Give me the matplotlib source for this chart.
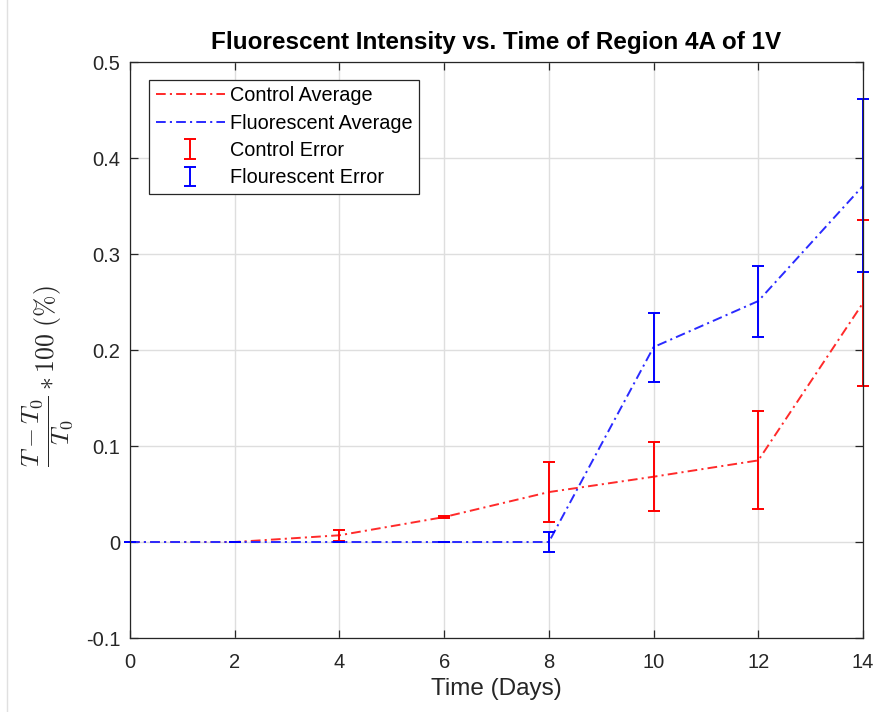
import matplotlib.pyplot as plt
import numpy as np

plt.rcParams['font.family'] = ['Liberation Sans', 'DejaVu Sans']
plt.rcParams['mathtext.fontset'] = 'cm'
plt.rcParams['lines.scale_dashes'] = False

days = [0, 2, 4, 6, 8, 10, 12, 14]
control_avg = [0, 0, 0.007, 0.026, 0.052, 0.068, 0.085, 0.249]
control_err = [0, 0, 0.006, 0.001, 0.031, 0.036, 0.051, 0.086]
fluor_avg = [0, 0, 0, 0, 0, 0.203, 0.251, 0.371]
fluor_err = [0, 0, 0, 0, 0.010, 0.036, 0.037, 0.090]

fig = plt.figure(figsize=(8.77, 7.12), dpi=100)
ax = fig.add_axes([130 / 877, 1 - 638 / 712, (863 - 130) / 877, (638 - 62) / 712])

dashdot = (7, 3, 1.5, 3)

# averages as dash-dot lines, errors as separate bar-only series (like MATLAB)
ax.plot(days, control_avg, color='#ff2a2a', dashes=dashdot, lw=1.4, label='Control Average')
ax.plot(days, fluor_avg, color='#2a2aff', dashes=dashdot, lw=1.4, label='Fluorescent Average')
ax.errorbar(days, control_avg, yerr=control_err, fmt='none', ecolor='red',
            elinewidth=1.4, capsize=4.5, capthick=1.4, label='Control Error', clip_on=False)
ax.errorbar(days, fluor_avg, yerr=fluor_err, fmt='none', ecolor='blue',
            elinewidth=1.4, capsize=4.5, capthick=1.4, label='Flourescent Error', clip_on=False)

ax.set_xlim(0, 14)
ax.set_ylim(-0.1, 0.5)
ax.set_xticks(np.arange(0, 15, 2))
ax.set_yticks([-0.1, 0, 0.1, 0.2, 0.3, 0.4, 0.5])
ax.set_yticklabels(['-0.1', '0', '0.1', '0.2', '0.3', '0.4', '0.5'])
ax.grid(True, color='#dedede', lw=1)
ax.set_axisbelow(True)
ax.tick_params(direction='in', top=True, right=True, labelsize=14.5, colors='#262626',
               length=5.5, width=0.9)
ax.tick_params(axis='x', pad=11)
ax.tick_params(axis='y', pad=7)
for s in ax.spines.values():
    s.set_color('#262626')
    s.set_linewidth(0.9)

ax.set_title('Fluorescent Intensity vs. Time of Region 4A of 1V', fontsize=17.5,
             fontweight='bold', pad=9)
ax.set_xlabel('Time (Days)', fontsize=17.5, color='#262626', labelpad=4)
ax.set_ylabel(r'$\dfrac{T-T_0}{T_0}*100\ (\%)$', fontsize=18.5, color='#262626')
ax.yaxis.set_label_coords(-0.075, 0.455)

leg = ax.legend(loc='upper left', bbox_to_anchor=(0.026, 0.969), borderaxespad=0,
                fontsize=14.3, fancybox=False, edgecolor='#262626', framealpha=1,
                borderpad=0.33, labelspacing=0.42, handlelength=3.5, handletextpad=0.25)
leg.get_frame().set_linewidth(0.9)

fig.add_artist(plt.Line2D([7 / 877, 7 / 877], [0, 1], color='#e0e0e0', lw=1))

fig.savefig('out.png', dpi=100)
